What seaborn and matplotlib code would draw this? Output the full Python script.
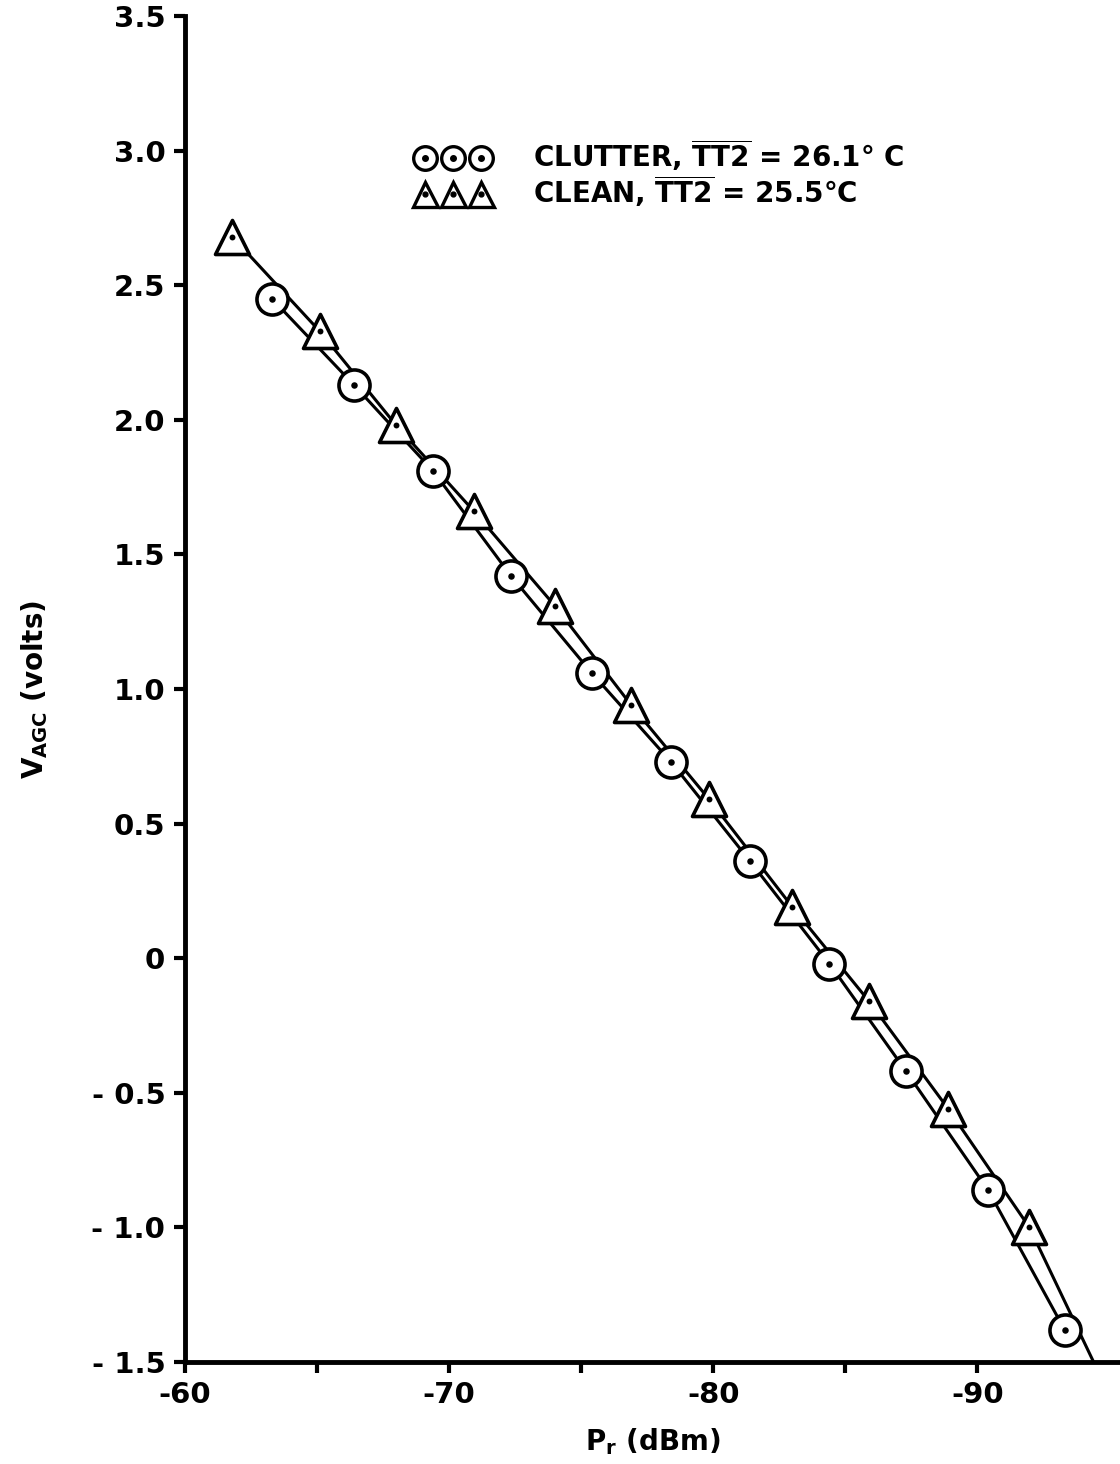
import matplotlib
matplotlib.use("Agg")
import matplotlib.pyplot as plt
import seaborn as sns
import pandas as pd
from matplotlib.lines import Line2D
from matplotlib.ticker import FixedLocator

sns.set_theme(style="ticks")
plt.rcParams['font.family'] = ['DejaVu Sans']
plt.rcParams['mathtext.default'] = 'regular'
plt.rcParams['text.color'] = 'black'
plt.rcParams['axes.labelcolor'] = 'black'
plt.rcParams['axes.edgecolor'] = 'black'

# ---- data ----
clutter_x = [-63.3, -66.4, -69.4, -72.35, -75.4, -78.4, -81.4, -84.4, -87.3, -90.4, -93.3]
clutter_y = [2.45, 2.13, 1.81, 1.42, 1.06, 0.73, 0.36, -0.02, -0.42, -0.86, -1.38]
clean_x = [-61.8, -65.1, -68.0, -70.95, -74.0, -76.9, -79.85, -83.0, -85.9, -88.9, -91.97]
clean_y = [2.68, 2.33, 1.98, 1.66, 1.31, 0.94, 0.59, 0.19, -0.16, -0.56, -1.00]
clean_end_x = [-94.4]
clean_end_y = [-1.5]

x_ticks = [-60, -70, -80, -90]
x_minor = [-65, -75, -85]
y_ticks = [-1.5, -1.0, -0.5, 0, 0.5, 1.0, 1.5, 2.0, 2.5, 3.0, 3.5]
y_labels = ["- 1.5", "- 1.0", "- 0.5", "0", "0.5", "1.0", "1.5", "2.0", "2.5", "3.0", "3.5"]
clutter_label = r"CLUTTER, $\overline{TT2}$ = 26.1° C"
clean_label = r"CLEAN, $\overline{TT2}$ = 25.5°C"

clutter = pd.DataFrame({"x": clutter_x, "y": clutter_y})
clean = pd.DataFrame({"x": clean_x, "y": clean_y})
clean_line = pd.DataFrame({"x": clean_x + clean_end_x, "y": clean_y + clean_end_y})

fig = plt.figure(figsize=(11.2, 14.64), dpi=100)
ax = fig.add_axes([0.165, 0.0697, 0.835, 0.9193])

lw = 2.2
sns.lineplot(data=clutter, x="x", y="y", sort=False, estimator=None, color="black", lw=lw, ax=ax, zorder=2)
sns.lineplot(data=clean_line, x="x", y="y", sort=False, estimator=None, color="black", lw=lw, ax=ax, zorder=2)

sns.scatterplot(data=clutter, x="x", y="y", marker="o", s=500, facecolor="white", edgecolor="black", linewidth=2.6, ax=ax, zorder=3)
sns.scatterplot(data=clean, x="x", y="y", marker="^", s=600, facecolor="white", edgecolor="black", linewidth=2.6, ax=ax, zorder=3)
sns.scatterplot(data=clutter, x="x", y="y", marker="o", s=22, color="black", linewidth=0, ax=ax, zorder=4)
sns.scatterplot(data=clean, x="x", y="y", marker="o", s=18, color="black", linewidth=0, ax=ax, zorder=4)

ax.set_xlim(-60, -95.4)
ax.set_ylim(-1.5, 3.5)
ax.xaxis.set_major_locator(FixedLocator(x_ticks))
ax.xaxis.set_minor_locator(FixedLocator(x_minor))
ax.set_xticklabels([str(v) for v in x_ticks])
ax.set_yticks(y_ticks)
ax.set_yticklabels(y_labels)

for s in ["top", "right"]:
    ax.spines[s].set_visible(False)
ax.spines["left"].set_linewidth(3.5)
ax.spines["bottom"].set_linewidth(3.5)
ax.tick_params(axis="both", which="major", direction="out", length=8, width=3, labelsize=21, colors="black", pad=6)
ax.tick_params(axis="x", which="minor", direction="out", length=8, width=3, colors="black")
ax.set_xlabel("$P_r$ (dBm)", fontsize=20, fontweight="bold", labelpad=12)
ax.set_ylabel("$V_{AGC}$ (volts)", fontsize=20, fontweight="bold", labelpad=30)
for t in ax.get_xticklabels() + ax.get_yticklabels():
    t.set_fontweight("bold")

h_c = (Line2D([], [], marker="o", ls="none", ms=17, mfc="white", mec="black", mew=2.4),
       Line2D([], [], marker="o", ls="none", ms=4, mfc="black", mec="black"))
h_t = (Line2D([], [], marker="^", ls="none", ms=18, mfc="white", mec="black", mew=2.4),
       Line2D([], [], marker="o", ls="none", ms=3.5, mfc="black", mec="black"))
leg = ax.legend([h_c, h_t], [clutter_label, clean_label], numpoints=3, frameon=False,
                loc="upper left", bbox_to_anchor=(0.236, 0.918), handlelength=2.6,
                handletextpad=1.6, labelspacing=0.0, borderaxespad=0,
                prop={"size": 20, "weight": "bold"})
for t in leg.get_texts():
    t.set_color("black")

fig.savefig("out.png", dpi=100, facecolor="white")
